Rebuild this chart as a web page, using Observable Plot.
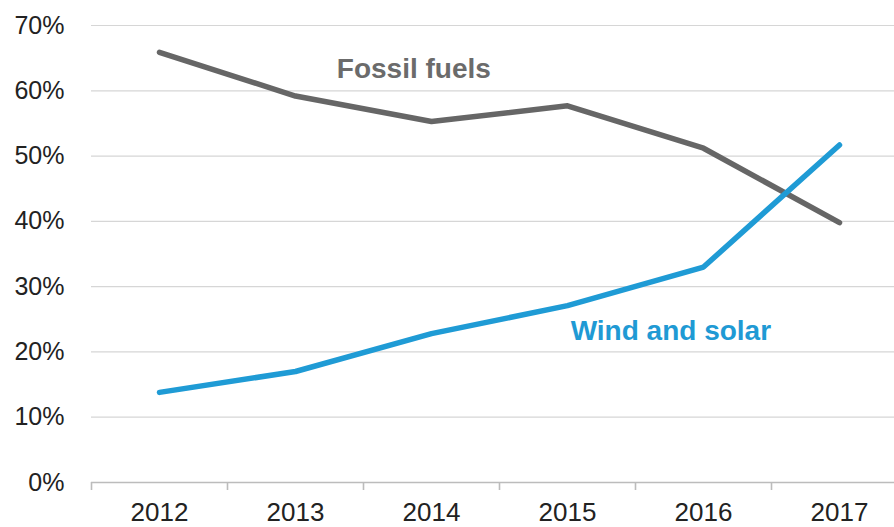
<!DOCTYPE html>
<html>
<head>
<meta charset="utf-8">
<script src="https://cdn.jsdelivr.net/npm/d3@7"></script>
<script src="https://cdn.jsdelivr.net/npm/@observablehq/plot@0.6"></script>
<style>
  html, body { margin: 0; padding: 0; background: #fff; overflow: hidden; }
  #chart svg { display: block; overflow: visible; }
</style>
</head>
<body>
<div id="chart"></div>
<script>
const years = [2012, 2013, 2014, 2015, 2016, 2017];
const fossilFuels = [65.9, 59.2, 55.3, 57.7, 51.2, 39.8];
const windSolar = [13.8, 17.0, 22.8, 27.1, 33.0, 51.7];
const yTicks = [0, 10, 20, 30, 40, 50, 60, 70];
const categoryEdges = [2011.5, 2012.5, 2013.5, 2014.5, 2015.5, 2016.5];
const seriesLabels = [
  {text: "Fossil fuels", x: 2013.87, y: 63.4, color: "#6b6b6b"},
  {text: "Wind and solar", x: 2015.76, y: 23.2, color: "#1f9ad4"}
];

const fossilData = years.map((year, i) => ({year, value: fossilFuels[i]}));
const windData = years.map((year, i) => ({year, value: windSolar[i]}));

const chart = Plot.plot({
  width: 894,
  height: 527,
  marginTop: 25,
  marginBottom: 45,
  marginLeft: 91,
  marginRight: 0,
  style: {fontFamily: "'Liberation Sans', Arial, sans-serif", color: "#222", background: "#fff"},
  x: {domain: [2011.5, 2017.5], range: [91, 907], axis: null},
  y: {domain: [0, 70], axis: null},
  marks: [
    Plot.ruleY(yTicks.filter(d => d > 0), {stroke: "#d6d6d6", strokeWidth: 1.2}),
    Plot.ruleY([0], {stroke: "#bcbcbc", strokeWidth: 1.6}),
    Plot.ruleX(categoryEdges, {x: d => d, y1: 0, y2: 0, insetBottom: -8, stroke: "#bcbcbc", strokeWidth: 1.6}),
    Plot.axisX({ticks: years, tickSize: 0, tickPadding: 20, tickFormat: d => String(d), fontSize: 26, fill: "#222"}),
    Plot.axisY({ticks: yTicks, tickSize: 0, tickPadding: 27, tickFormat: d => d + "%", fontSize: 25, fill: "#222"}),
    Plot.line(fossilData, {x: "year", y: "value", stroke: "#666666", strokeWidth: 5.5, strokeLinecap: "round", strokeLinejoin: "round"}),
    Plot.line(windData, {x: "year", y: "value", stroke: "#1f9bd5", strokeWidth: 5.5, strokeLinecap: "round", strokeLinejoin: "round"}),
    Plot.text(seriesLabels, {x: "x", y: "y", text: "text", fill: "color", fontSize: 28, fontWeight: "bold", textAnchor: "middle", lineAnchor: "middle"})
  ]
});
document.getElementById("chart").append(chart);
</script>
</body>
</html>
